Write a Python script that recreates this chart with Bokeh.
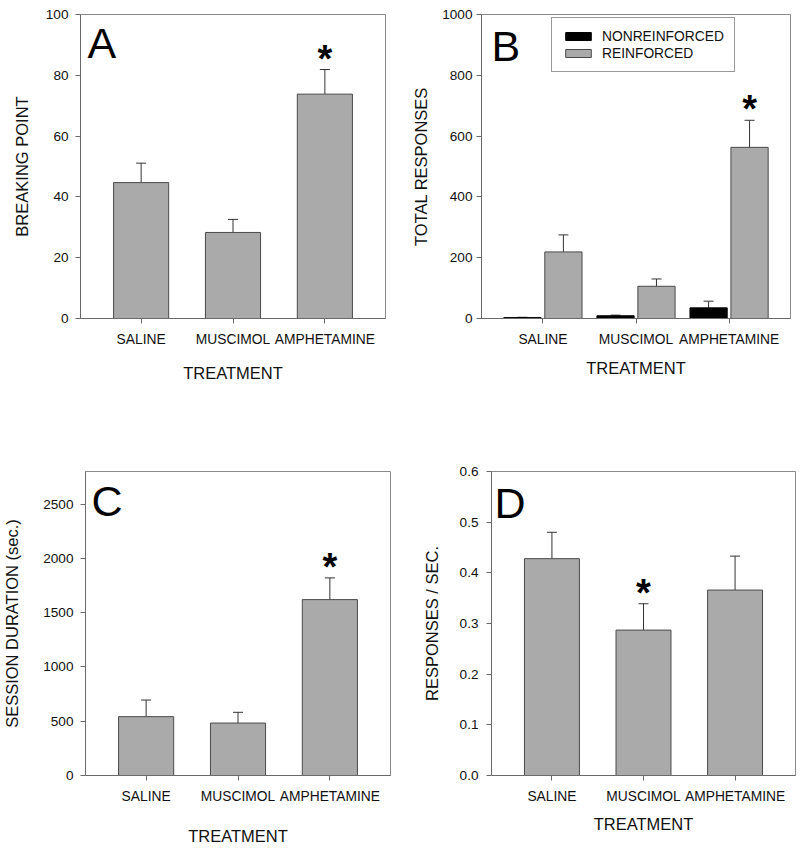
from bokeh.plotting import figure
from bokeh.models import (Range1d, FixedTicker, Whisker, TeeHead, ColumnDataSource,
                          Label, Legend, LegendItem, PrintfTickFormatter)
from bokeh.layouts import column, row
from bokeh.embed import file_html
from bokeh.resources import INLINE
from bokeh.core.properties import value

# ---------------- data ----------------
categories = ["SALINE", "MUSCIMOL", "AMPHETAMINE"]
x_pos = [0, 1, 2]

# A: breaking point
bp_mean = [44.7, 28.3, 73.8]
bp_sem = [6.4, 4.3, 8.1]
bp_sig = [False, False, True]

# B: total responses
nonreinf_mean = [3, 9, 35]
nonreinf_sem = [1, 2, 22]
reinf_mean = [219, 106, 563]
reinf_sem = [56, 24, 89]
reinf_sig = [False, False, True]

# C: session duration
dur_mean = [542, 483, 1620]
dur_sem = [153, 99, 200]
dur_sig = [False, False, True]

# D: responses / sec
rate_mean = [0.428, 0.287, 0.366]
rate_sem = [0.052, 0.052, 0.067]
rate_sig = [False, True, False]

y_ticks_A = [0, 20, 40, 60, 80, 100]
y_ticks_B = [0, 200, 400, 600, 800, 1000]
y_ticks_C = [0, 500, 1000, 1500, 2000, 2500]
y_ticks_D = [0.0, 0.1, 0.2, 0.3, 0.4, 0.5, 0.6]

# ---------------- style ----------------
FONT = "Liberation Sans"
BAR_FILL = "#aaaaaa"
BAR_LINE = "#4a4a4a"
FRAME = "#8a8a8a"
AXIS = "#6a6a6a"
TEXT = "#111111"


def make_panel(ymax, yticks, ylabel, letter, letter_fx, letter_fy,
               left, fw, right, top, fh, bottom, xlab_standoff, ylab_standoff=12,
               ytick_standoff=7, fmt=None):
    p = figure(x_range=Range1d(-0.66, 2.66), y_range=Range1d(0, ymax),
               frame_width=fw, frame_height=fh,
               min_border_left=left, min_border_right=right,
               min_border_top=top, min_border_bottom=bottom,
               output_backend="svg", toolbar_location=None)
    p.grid.visible = False
    p.outline_line_color = FRAME
    p.outline_line_width = 1
    p.background_fill_color = "white"
    p.border_fill_color = "white"

    p.xaxis.ticker = FixedTicker(ticks=x_pos)
    p.xaxis.major_label_overrides = {x: c for x, c in zip(x_pos, categories)}
    p.yaxis.ticker = FixedTicker(ticks=yticks)
    if fmt:
        p.yaxis.formatter = PrintfTickFormatter(format=fmt)

    for ax in (p.xaxis[0], p.yaxis[0]):
        ax.axis_line_color = AXIS
        ax.major_tick_line_color = AXIS
        ax.major_tick_out = 5
        ax.major_tick_in = 0
        ax.minor_tick_line_color = None
        ax.major_label_text_font = FONT
        ax.major_label_text_color = TEXT
        ax.axis_label_text_font = FONT
        ax.axis_label_text_font_style = "normal"
        ax.axis_label_text_color = TEXT
        ax.axis_label_text_font_size = "16.5px"

    p.xaxis.major_label_text_font_size = "13.8px"
    p.xaxis.major_label_standoff = 8
    p.xaxis.axis_label = "TREATMENT"
    p.xaxis.axis_label_standoff = xlab_standoff
    p.yaxis.major_label_text_font_size = "13.6px"
    p.yaxis.major_label_standoff = ytick_standoff
    p.yaxis.axis_label = ylabel
    p.yaxis.axis_label_standoff = ylab_standoff

    xr0, xr1 = -0.66, 2.66
    p.add_layout(Label(x=xr0 + letter_fx * (xr1 - xr0), y=letter_fy * ymax, text=letter,
                       text_font=FONT, text_font_size="43px", text_color="black",
                       text_baseline="alphabetic", text_align="left"))
    return p


def add_bars(p, xs, means, sems, width, fill, line):
    errs = [m + s for m, s in zip(means, sems)]
    src = ColumnDataSource(dict(x=xs, top=means, err=errs))
    r = p.vbar(x="x", top="top", bottom=0, width=width, source=src,
               fill_color=fill, line_color=line, line_width=1)
    p.add_layout(Whisker(source=src, base="x", upper="err", lower="top",
                         dimension="height", line_color="#333333", line_width=1,
                         upper_head=TeeHead(size=10, line_color="#333333", line_width=1),
                         lower_head=None))
    return r, errs


def add_stars(p, xs, errs, sig):
    sx = [x for x, s in zip(xs, sig) if s]
    sy = [e for e, s in zip(errs, sig) if s]
    p.text(x=sx, y=sy, text=["*"] * len(sx), text_font=value(FONT),
           text_font_style="bold", text_font_size="38px", text_align="center",
           text_baseline="alphabetic", y_offset=-11, text_color="black")


# ---------- Panel A ----------
pA = make_panel(100, y_ticks_A, "BREAKING POINT", "A", 0.023, 0.907,
                80, 305, 15, 14, 304, 108, xlab_standoff=14)
rA, eA = add_bars(pA, x_pos, bp_mean, bp_sem, 0.6, BAR_FILL, BAR_LINE)
add_stars(pA, x_pos, eA, bp_sig)

# ---------- Panel B ----------
pB = make_panel(1000, y_ticks_B, "TOTAL RESPONSES", "B", 0.032, 0.895,
                81, 309, 8, 14, 304, 108, xlab_standoff=9, ytick_standoff=4,
                ylab_standoff=9)
x_non = [x - 0.22 for x in x_pos]
x_rei = [x + 0.22 for x in x_pos]
rB1, eB1 = add_bars(pB, x_non, nonreinf_mean, nonreinf_sem, 0.4, "black", "black")
rB2, eB2 = add_bars(pB, x_rei, reinf_mean, reinf_sem, 0.4, BAR_FILL, BAR_LINE)
add_stars(pB, x_rei, eB2, reinf_sig)
legend = Legend(items=[LegendItem(label="NONREINFORCED", renderers=[rB1]),
                       LegendItem(label="REINFORCED", renderers=[rB2])],
                location=(70, 246), padding=10, spacing=1, margin=0,
                glyph_width=32, glyph_height=10, label_height=16, label_standoff=8,
                label_text_font=FONT, label_text_font_size="13.8px",
                label_text_color=TEXT, border_line_color="#333333",
                border_line_width=1, background_fill_color="white",
                background_fill_alpha=1.0)
pB.add_layout(legend)

# ---------- Panel C ----------
pC = make_panel(2800, y_ticks_C, "SESSION DURATION (sec.)", "C", 0.02, 0.904,
                80, 305, 15, 45, 304, 73, xlab_standoff=20, ylab_standoff=19)
rC, eC = add_bars(pC, x_pos, dur_mean, dur_sem, 0.6, BAR_FILL, BAR_LINE)
add_stars(pC, x_pos, eC, dur_sig)

# ---------- Panel D ----------
pD = make_panel(0.6, y_ticks_D, "RESPONSES / SEC.", "D", 0.01, 0.895,
                86, 304, 8, 45, 304, 73, xlab_standoff=8, fmt="%.1f", ytick_standoff=8,
                ylab_standoff=16)
rD, eD = add_bars(pD, x_pos, rate_mean, rate_sem, 0.6, BAR_FILL, BAR_LINE)
add_stars(pD, x_pos, eD, rate_sig)

layout = column(row(pA, pB, spacing=0), row(pC, pD, spacing=0), spacing=0)

open("out.html", "w").write(file_html(layout, INLINE))
